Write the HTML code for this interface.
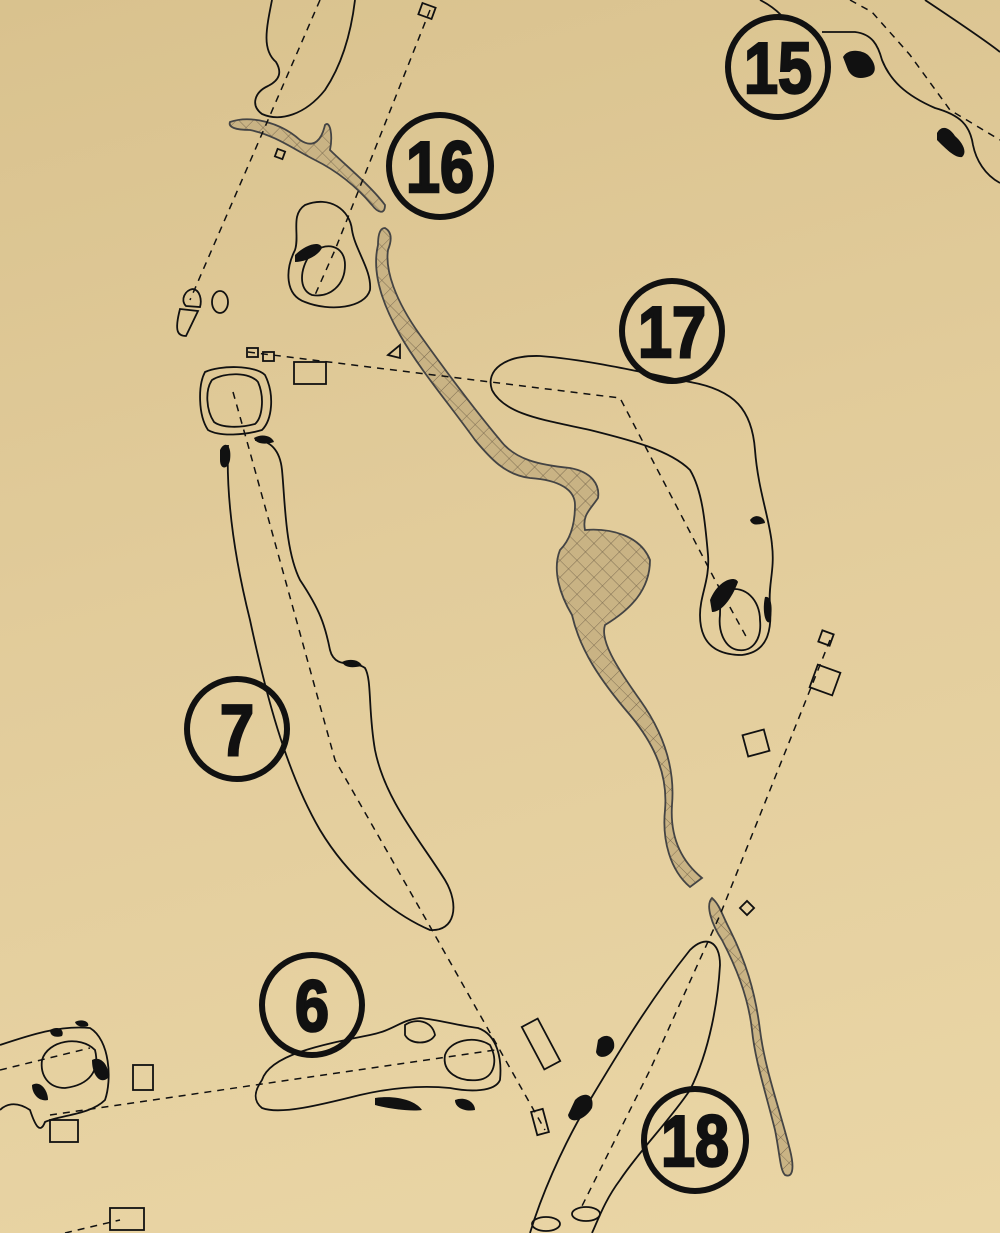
<!DOCTYPE html>
<html><head><meta charset="utf-8"><style>
html,body{margin:0;padding:0}
body{width:1000px;height:1233px;overflow:hidden;background:linear-gradient(165deg,#d9c28e 0%,#e2cc9b 45%,#ead6a6 100%);}
svg{display:block}
.n{font-family:"Liberation Sans Narrow","Liberation Sans",sans-serif;font-weight:bold;font-size:72px;text-anchor:middle;stroke:#111;stroke-width:2.5}
</style></head><body>
<svg width="1000" height="1233" viewBox="0 0 1000 1233" xmlns="http://www.w3.org/2000/svg">
<defs>
<pattern id="h" width="12" height="12" patternUnits="userSpaceOnUse" patternTransform="rotate(45)">
<rect width="12" height="12" fill="#c9b384"/>
<path d="M0 0H12M0 0V12" stroke="#6b5c45" stroke-width="0.8"/>
</pattern>
</defs>
<g fill="none" stroke="#111" stroke-width="1.8">
<!-- hole 16 top fairway -->
<path d="M272 0 C266 30 262 50 276 62 C282 72 280 80 268 86 C255 92 250 105 262 114 C280 122 305 115 325 90 C345 60 352 25 355 0"/>
<!-- creek 16 -->
<path fill="url(#h)" stroke="#444" d="M230 122 C250 115 280 122 300 140 C315 150 322 138 325 125 C330 120 333 135 330 150 C345 165 370 185 385 205 C385 215 378 213 372 205 C355 185 335 170 315 160 C295 150 275 135 250 130 C235 130 228 127 230 122Z"/>
<!-- green 16 -->
<path d="M305 205 C330 195 350 210 352 230 C355 250 372 270 370 290 C365 308 330 312 305 302 C285 295 285 270 295 250 C300 235 290 215 305 205Z"/>
<path d="M310 255 C325 240 345 245 345 265 C345 285 330 298 312 295 C298 290 300 268 310 255Z"/>
<!-- water hazard -->
<path fill="url(#h)" stroke="#444" d="M385 228 C392 232 392 240 388 250 C385 270 395 300 420 335 C445 370 475 410 500 440 C515 460 540 465 570 468 C592 472 600 485 598 498 C590 510 582 515 585 530 C610 528 640 535 650 560 C650 590 630 610 605 625 C600 640 615 665 640 700 C665 735 675 770 672 805 C670 835 680 860 702 878 L690 887 C670 870 662 840 665 810 C668 775 655 745 630 715 C600 680 580 650 572 615 C560 595 552 570 560 550 C570 540 575 525 575 505 C575 490 560 480 530 478 C505 475 490 458 475 440 C450 405 420 370 400 335 C380 300 372 270 378 245 C378 235 380 228 385 228Z"/>
<!-- hole 7 green -->
<path d="M205 372 C220 365 255 365 265 375 C275 395 272 420 262 430 C245 435 220 437 208 430 C198 415 198 385 205 372Z"/>
<path d="M212 380 C225 372 250 372 258 382 C265 398 262 418 255 424 C240 428 222 428 214 422 C206 410 205 390 212 380Z"/>
<!-- hole 7 fairway -->
<path d="M228 445 C226 500 235 560 250 620 C265 690 285 770 320 830 C350 880 395 915 430 930 C455 932 460 905 445 880 C420 840 385 800 375 750 C368 710 372 680 365 668 C355 660 335 670 330 650 C325 625 320 610 300 580 C285 550 285 500 282 470 C280 450 270 440 255 440"/>
<!-- hole 17 -->
<path d="M492 390 C485 370 505 355 540 356 C590 360 640 372 690 382 C735 390 752 410 755 450 C758 490 770 520 772 545 C775 570 768 585 770 605 C772 630 768 652 742 655 C712 655 700 640 700 615 C700 595 710 580 708 555 C705 520 702 490 690 470 C670 450 630 440 590 430 C545 420 505 415 492 390Z"/>
<path d="M728 590 C745 585 760 600 760 620 C762 640 752 652 738 650 C725 648 718 632 720 615 C720 600 722 592 728 590Z"/>
<!-- hole 15 -->
<path d="M760 0 C768 4 775 9 781 15"/>
<path d="M822 32 L855 32 C872 34 878 45 882 60 C890 80 905 95 935 108 C960 115 970 125 973 145 C976 160 985 175 1000 183"/>
<path d="M925 0 C955 20 985 40 1000 52"/>
<!-- hole 6 -->
<path d="M262 1080 C270 1055 320 1045 370 1035 C395 1030 400 1020 420 1018 C440 1020 455 1025 478 1028 C498 1035 502 1060 500 1080 C495 1092 470 1092 450 1088 C420 1085 390 1088 360 1095 C320 1105 280 1115 262 1108 C252 1100 255 1090 262 1080Z"/>
<path d="M445 1055 C450 1040 475 1035 490 1045 C498 1060 495 1078 478 1080 C458 1082 442 1072 445 1055Z"/>
<path d="M405 1025 C415 1018 432 1020 435 1035 C430 1045 410 1045 405 1035Z"/>
<!-- left green partial -->
<path d="M0 1045 C30 1035 60 1025 90 1028 C110 1040 112 1080 105 1100 C90 1115 60 1115 45 1122 C40 1135 35 1125 30 1110 C15 1100 5 1105 0 1110"/>
<path d="M42 1060 C48 1040 80 1035 95 1050 C100 1070 90 1085 65 1088 C48 1088 40 1075 42 1060Z"/>
<!-- hole 18 fairway -->
<path d="M530 1233 C540 1200 560 1150 590 1100 C620 1050 650 1000 690 950 C705 935 720 940 720 965 C718 1000 710 1050 690 1090 C670 1120 640 1150 620 1180 C605 1200 598 1220 592 1233"/>
<!-- creek 18 -->
<path fill="url(#h)" stroke="#444" d="M712 898 C720 905 722 915 730 930 C745 960 755 990 760 1030 C765 1070 780 1110 790 1150 C795 1170 792 1178 785 1175 C780 1170 780 1155 775 1130 C765 1090 755 1060 752 1030 C748 995 735 965 722 940 C712 925 705 905 712 898Z"/>
<!-- tee boxes -->
<rect x="294" y="362" width="32" height="22"/>
<rect x="247" y="348" width="11" height="9"/>
<rect x="263" y="352" width="11" height="9"/>
<rect x="420" y="5" width="14" height="12" transform="rotate(20 427 11)"/>
<rect x="276" y="150" width="8" height="8" transform="rotate(20 280 154)"/>
<path d="M186 306 C180 300 185 290 193 289 C200 290 202 300 200 307 Z"/>
<path d="M180 309 L198 311 L186 336 C178 336 174 332 180 309Z"/>
<ellipse cx="220" cy="302" rx="8" ry="11"/>
<path d="M388 355 L400 345 L400 358Z"/>
<rect x="820" y="632" width="12" height="12" transform="rotate(20 826 638)"/>
<rect x="813" y="668" width="24" height="24" transform="rotate(20 825 680)"/>
<rect x="745" y="732" width="22" height="22" transform="rotate(-15 756 743)"/>
<rect x="742" y="903" width="10" height="10" transform="rotate(45 747 908)"/>
<rect x="532" y="1020" width="18" height="48" transform="rotate(-28 541 1044)"/>
<rect x="534" y="1110" width="12" height="24" transform="rotate(-15 540 1122)"/>
<rect x="133" y="1065" width="20" height="25"/>
<rect x="50" y="1120" width="28" height="22"/>
<rect x="110" y="1208" width="34" height="22"/>
<ellipse cx="546" cy="1224" rx="14" ry="7"/>
<ellipse cx="586" cy="1214" rx="14" ry="7"/>
</g>
<!-- dashed lines -->
<g fill="none" stroke="#111" stroke-width="1.5" stroke-dasharray="7 6">
<path d="M320 0 L268 120 L190 300"/>
<path d="M430 10 L335 250 L315 295"/>
<path d="M248 352 L620 398 L715 580 L748 640"/>
<path d="M233 392 L248 445 L335 760 L432 930 L545 1130"/>
<path d="M830 640 L720 915 L650 1070 L580 1210"/>
<path d="M50 1115 L495 1050"/>
<path d="M0 1070 L90 1048"/>
<path d="M65 1233 L120 1220"/>
<path d="M850 0 L872 12 L910 55 L950 110 L1000 140"/>
</g>
<!-- bunkers -->
<g fill="#111">
<path d="M843 57 C848 48 862 50 868 55 C875 62 878 72 870 76 C860 80 852 78 848 70Z"/>
<path d="M937 133 C942 124 950 128 955 136 C962 142 968 152 962 157 C955 158 947 150 937 140Z"/>
<path d="M295 255 C305 245 320 240 322 248 C318 256 305 262 295 262Z"/>
<path d="M220 450 C225 440 232 445 230 460 C228 470 220 470 220 460Z"/>
<path d="M254 438 C262 433 272 436 274 442 C265 445 256 444 254 438Z"/>
<path d="M342 662 C350 658 360 660 362 666 C352 668 345 668 342 662Z"/>
<path d="M750 520 C756 512 765 518 765 523 C758 525 752 526 750 520Z"/>
<path d="M710 600 C718 580 735 575 738 582 C732 598 722 612 712 612Z"/>
<path d="M765 597 C772 595 773 610 770 622 C765 625 762 610 765 597Z"/>
<path d="M375 1098 C395 1095 415 1100 422 1110 C410 1112 385 1108 375 1105Z"/>
<path d="M455 1100 C465 1096 475 1102 475 1110 C465 1112 455 1108 455 1100Z"/>
<path d="M575 1100 C585 1090 595 1095 592 1108 C585 1120 570 1125 568 1115Z"/>
<path d="M598 1040 C605 1032 616 1036 614 1048 C610 1058 598 1060 596 1052Z"/>
<path d="M92 1060 C100 1055 110 1065 108 1078 C100 1085 92 1075 92 1060Z"/>
<path d="M32 1085 C40 1080 48 1090 48 1100 C40 1102 32 1095 32 1085Z"/>
<path d="M50 1030 C58 1025 65 1030 62 1036 C55 1038 50 1036 50 1030Z"/>
<path d="M75 1022 C82 1018 90 1022 88 1026 C82 1028 76 1026 75 1022Z"/>
</g>
<!-- numbers -->
<g fill="none" stroke="#111" stroke-width="6">
<circle cx="778" cy="67" r="50"/>
<circle cx="440" cy="166" r="51"/>
<circle cx="672" cy="331" r="50"/>
<circle cx="237" cy="729" r="50"/>
<circle cx="312" cy="1005" r="50"/>
<circle cx="695" cy="1140" r="51"/>
</g>
<g fill="#111" class="n">
<text x="778" y="93" transform="translate(778 0) scale(0.85 1) translate(-778 0)">15</text>
<text x="440" y="192" transform="translate(440 0) scale(0.85 1) translate(-440 0)">16</text>
<text x="672" y="357" transform="translate(672 0) scale(0.85 1) translate(-672 0)">17</text>
<text x="237" y="755" transform="translate(237 0) scale(0.85 1) translate(-237 0)">7</text>
<text x="312" y="1031" transform="translate(312 0) scale(0.85 1) translate(-312 0)">6</text>
<text x="695" y="1166" transform="translate(695 0) scale(0.85 1) translate(-695 0)">18</text>
</g>
</svg>
</body></html>
